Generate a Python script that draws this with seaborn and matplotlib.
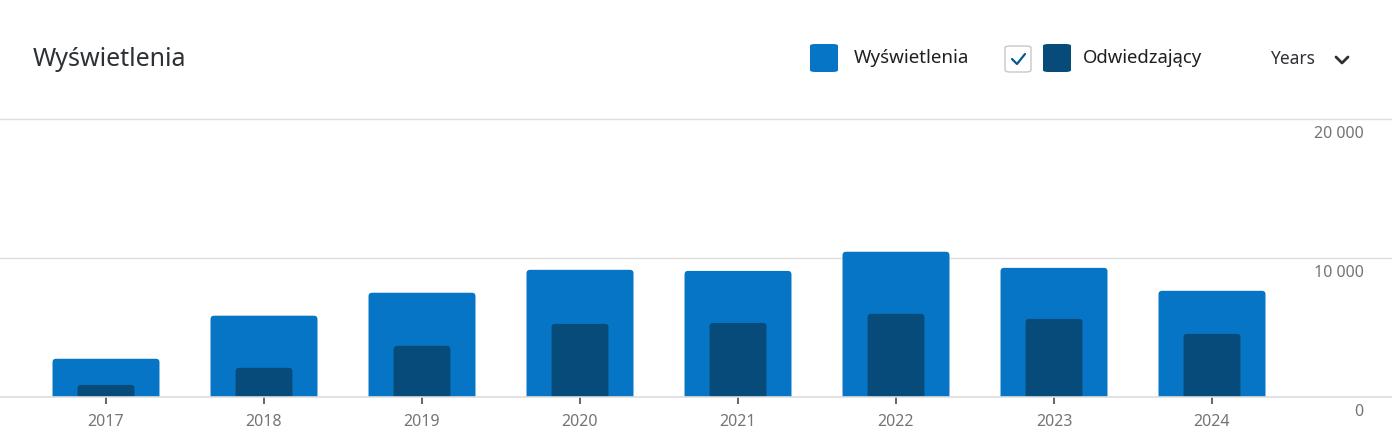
import matplotlib
matplotlib.use("Agg")
import matplotlib.pyplot as plt
import matplotlib.transforms as mtransforms
import seaborn as sns
import pandas as pd
from matplotlib.patches import FancyBboxPatch
from matplotlib.lines import Line2D

years = ["2017", "2018", "2019", "2020", "2021", "2022", "2023", "2024"]
views = [2750, 5850, 7500, 9150, 9070, 10450, 9290, 7640]
visitors = [870, 2100, 3680, 5260, 5330, 5980, 5620, 4540]
ytick_vals = [0, 10000, 20000]
ytick_labels = ["0", "10 000", "20 000"]

LIGHT = "#0775C5"
DARK = "#064B7A"
W, H = 1392, 447

sns.set_theme(style="white")
plt.rcParams["font.family"] = ["Noto Sans", "DejaVu Sans"]

fig = plt.figure(figsize=(W / 100, H / 100), dpi=100)
fig.patch.set_facecolor("white")

def fx(x):
    return x / W

def fy(y):
    return 1 - y / H

ax_top_px, ax_bot_px = 100, 397
ax = fig.add_axes([0, fy(ax_bot_px), 1, (ax_bot_px - ax_top_px) / H])
ax.set_facecolor("white")

df = pd.DataFrame({"year": years, "views": views, "visitors": visitors})
sns.barplot(data=df, x="year", y="views", color=LIGHT, width=0.677,
            saturation=1, ax=ax, zorder=2)
sns.barplot(data=df, x="year", y="visitors", color=DARK, width=0.36,
            saturation=1, ax=ax, zorder=3)

cat_w = 158
first_c = 106
ax.set_xlim(-first_c / cat_w, (W - first_c) / cat_w)
ylim_top = 20000 * (ax_bot_px - ax_top_px) / (397 - 119)
ax.set_ylim(0, ylim_top)

# rounded tops only: extend rounded patches below the axis so the bottom is clipped
units_per_px_y = ylim_top / (ax_bot_px - ax_top_px)
units_per_px_x = 1 / cat_w
r_px = 3.5
for p in list(ax.patches):
    x0, y0 = p.get_x(), p.get_y()
    w, h = p.get_width(), p.get_height()
    fc = p.get_facecolor()
    z = p.get_zorder()
    p.set_visible(False)
    ext = 2 * r_px * units_per_px_y
    ax.add_patch(FancyBboxPatch((x0, y0 - ext), w, h + ext,
                                boxstyle=f"round,pad=0,rounding_size={r_px * units_per_px_x}",
                                mutation_aspect=units_per_px_y / units_per_px_x,
                                facecolor=fc, edgecolor="none", zorder=z,
                                clip_on=True))

ax.set_xlabel("")
ax.set_ylabel("")
ax.set_yticks(ytick_vals)
ax.set_yticklabels(ytick_labels)
ax.yaxis.tick_right()
ax.tick_params(axis="y", length=0, pad=-20.5, labelsize=11.5, labelcolor="#757575")
for lab in ax.get_yticklabels():
    lab.set_horizontalalignment("right")
    lab.set_verticalalignment("top")
ax.tick_params(axis="x", length=5, width=1.3, color="#555a60", labelsize=11.5,
               labelcolor="#757575", pad=7, bottom=True)
ax.grid(axis="y", color="#dedede", linewidth=1, zorder=0)
ax.grid(axis="x", visible=False)
for s in ["top", "left", "right"]:
    ax.spines[s].set_visible(False)
ax.spines["bottom"].set_color("#dedede")
ax.spines["bottom"].set_linewidth(1.2)
ax.spines["bottom"].set_zorder(5)
ax.set_axisbelow(True)

offset = mtransforms.ScaledTranslation(0, -5 / 72, fig.dpi_scale_trans)
for lab in ax.get_yticklabels():
    lab.set_transform(lab.get_transform() + offset)

# Header
fig.text(fx(33), fy(59), "Wyświetlenia", fontsize=18, color="#2d3035",
         va="center", ha="left")

def square(x, y, s, color, ec="none", lw=0):
    fig.patches.append(FancyBboxPatch((fx(x), fy(y + s)), s / W, s / H,
                                      boxstyle="round,pad=0,rounding_size=0.004",
                                      transform=fig.transFigure, facecolor=color,
                                      edgecolor=ec, linewidth=lw))

square(810, 44, 28, LIGHT)
fig.text(fx(854), fy(58), "Wyświetlenia", fontsize=13.5, color="#1f1f1f",
         va="center", ha="left")
square(1005, 46, 26, "white", ec="#c8c8c8", lw=1)
fig.lines.append(Line2D([fx(1012), fx(1017), fx(1025)], [fy(59), fy(64), fy(54)],
                        transform=fig.transFigure, color="#0a5a8f", linewidth=1.6))
square(1043, 44, 28, DARK)
fig.text(fx(1083), fy(58), "Odwiedzający", fontsize=13.3, color="#1f1f1f",
         va="center", ha="left")
fig.text(fx(1270), fy(59), "Years", fontsize=12.5, color="#2d3035",
         va="center", ha="left")
fig.lines.append(Line2D([fx(1336), fx(1342), fx(1348)], [fy(57), fy(63), fy(57)],
                        transform=fig.transFigure, color="#2d3035", linewidth=2))

fig.savefig("out.png", dpi=100, facecolor="white")
